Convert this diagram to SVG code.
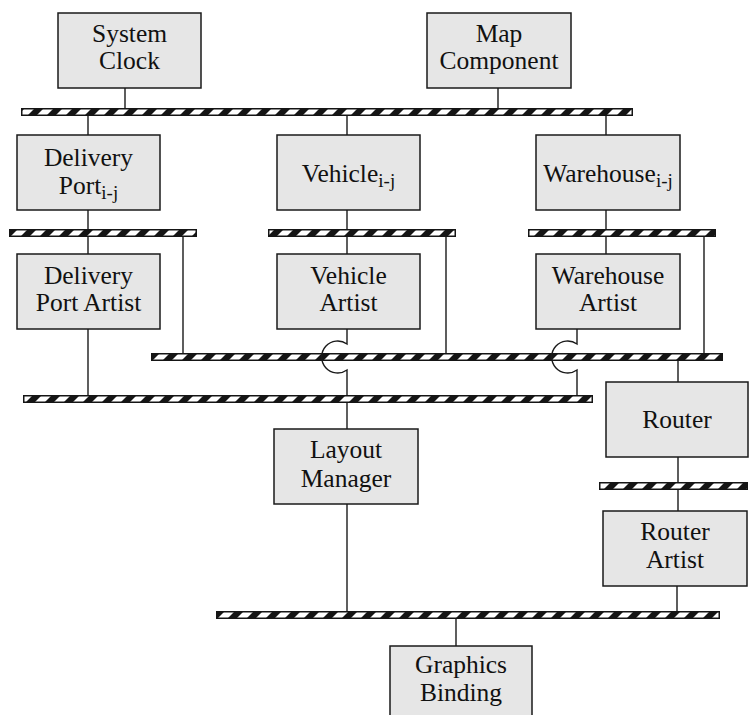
<svg xmlns="http://www.w3.org/2000/svg" width="749" height="715" viewBox="0 0 749 715">
<style>
.box{fill:#e6e6e6;stroke:#1a1a1a;stroke-width:1.5}
.t{font-family:'Liberation Serif','Times New Roman',serif;font-size:25.5px;fill:#111;text-anchor:middle}
.sub{font-size:19px}
.ln{stroke:#1a1a1a;stroke-width:1.4;fill:none}
.busb{fill:#151515}
.bush{fill:url(#hatch)}
</style>
<defs>
<pattern id="hatch" patternUnits="userSpaceOnUse" width="19" height="10" patternTransform="skewX(-45)">
<rect width="19" height="10" fill="#151515"/>
<rect x="0" width="10" height="10" fill="#fff"/>
</pattern>
</defs>
<rect width="749" height="715" fill="#fff"/>

<g id="buses">
<g id="bus-top"><rect class="busb" x="21" y="108" width="612" height="8"/><rect class="bush" x="22.5" y="109.5" width="609" height="5"/></g>
<g id="bus-delivery"><rect class="busb" x="9" y="229" width="188" height="8"/><rect class="bush" x="10.5" y="230.5" width="185" height="5"/></g>
<g id="bus-vehicle"><rect class="busb" x="268" y="229" width="188" height="8"/><rect class="bush" x="269.5" y="230.5" width="185" height="5"/></g>
<g id="bus-warehouse"><rect class="busb" x="528" y="229" width="188" height="8"/><rect class="bush" x="529.5" y="230.5" width="185" height="5"/></g>
<g id="bus-artists"><rect class="busb" x="151" y="353" width="572" height="8"/><rect class="bush" x="152.5" y="354.5" width="569" height="5"/></g>
<g id="bus-layout"><rect class="busb" x="23" y="395" width="570" height="8"/><rect class="bush" x="24.5" y="396.5" width="567" height="5"/></g>
<g id="bus-router"><rect class="busb" x="599" y="482" width="149" height="8"/><rect class="bush" x="600.5" y="483.5" width="146" height="5"/></g>
<g id="bus-graphics"><rect class="busb" x="216" y="611" width="504" height="8"/><rect class="bush" x="217.5" y="612.5" width="501" height="5"/></g>
</g>

<g id="connectors">
<path class="ln" d="M125,88V108 M498,88V108"/>
<path class="ln" d="M88,116V135 M347,116V135 M606,116V135"/>
<path class="ln" d="M88,210V229 M347,210V229 M606,210V229"/>
<path class="ln" d="M88,237V254 M347,237V254 M606,237V254"/>
<path class="ln" d="M183,237V353 M446,237V353 M704,237V353"/>
<path class="ln" d="M88,329V395"/>
<path class="ln" d="M347,329V344 A16,16 0 1 0 347,370 V395"/>
<path class="ln" d="M577,329V344 A16,16 0 1 0 577,370 V395"/>
<path class="ln" d="M347,403V429"/>
<path class="ln" d="M678,361V382 M678,457V482 M678,490V511 M677,586V611"/>
<path class="ln" d="M347,504V611"/>
<path class="ln" d="M456,619V646"/>
</g>

<g id="system-clock"><rect class="box" x="58" y="13" width="143" height="75"/><text class="t" x="129.5" y="42">System</text><text class="t" x="129.5" y="69">Clock</text></g>
<g id="map-component"><rect class="box" x="427" y="13" width="144" height="75"/><text class="t" x="499" y="42">Map</text><text class="t" x="499" y="69">Component</text></g>

<g id="delivery-port"><rect class="box" x="17" y="135" width="143" height="75"/><text class="t" x="88.5" y="166">Delivery</text><text class="t" x="88.5" y="194">Port<tspan class="sub" dy="5">i-j</tspan></text></g>
<g id="vehicle"><rect class="box" x="277" y="135" width="143" height="75"/><text class="t" x="348.5" y="182">Vehicle<tspan class="sub" dy="5">i-j</tspan></text></g>
<g id="warehouse"><rect class="box" x="536" y="135" width="144" height="75"/><text class="t" x="608" y="182">Warehouse<tspan class="sub" dy="5">i-j</tspan></text></g>

<g id="delivery-port-artist"><rect class="box" x="17" y="254" width="143" height="75"/><text class="t" x="88.5" y="284">Delivery</text><text class="t" x="88.5" y="311">Port Artist</text></g>
<g id="vehicle-artist"><rect class="box" x="277" y="254" width="143" height="75"/><text class="t" x="348.5" y="284">Vehicle</text><text class="t" x="348.5" y="311">Artist</text></g>
<g id="warehouse-artist"><rect class="box" x="536" y="254" width="144" height="75"/><text class="t" x="608" y="284">Warehouse</text><text class="t" x="608" y="311">Artist</text></g>

<g id="layout-manager"><rect class="box" x="274" y="429" width="144" height="75"/><text class="t" x="346" y="458">Layout</text><text class="t" x="346" y="487">Manager</text></g>
<g id="router"><rect class="box" x="606" y="382" width="142" height="75"/><text class="t" x="677" y="428">Router</text></g>
<g id="router-artist"><rect class="box" x="603" y="511" width="144" height="75"/><text class="t" x="675" y="540">Router</text><text class="t" x="675" y="568">Artist</text></g>
<g id="graphics-binding"><rect class="box" x="390" y="646" width="142" height="80"/><text class="t" x="461" y="673">Graphics</text><text class="t" x="461" y="701">Binding</text></g>
</svg>
